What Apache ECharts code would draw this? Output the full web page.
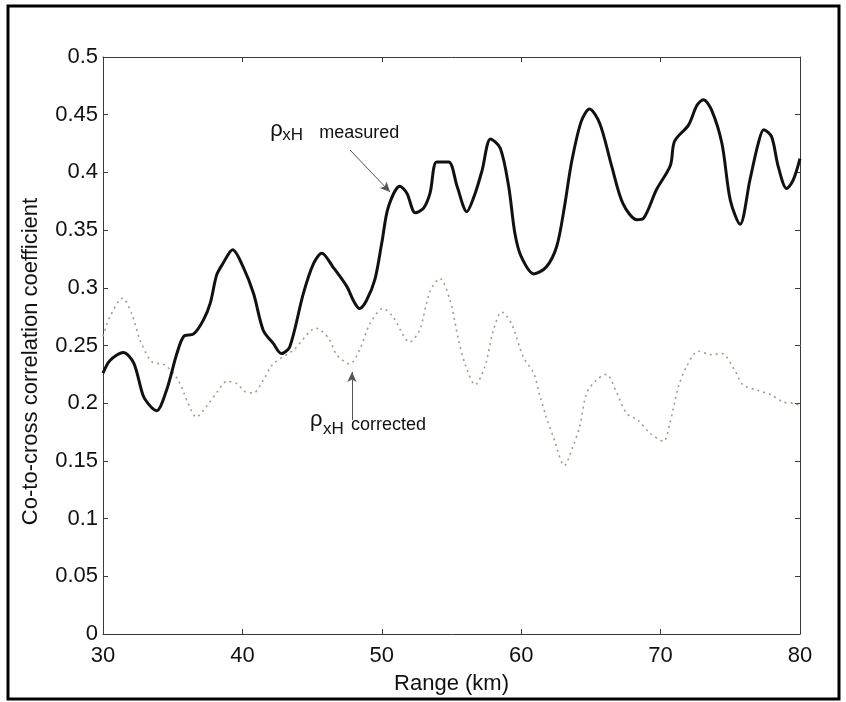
<!DOCTYPE html>
<html>
<head>
<meta charset="utf-8">
<script src="https://cdn.jsdelivr.net/npm/echarts@6/dist/echarts.min.js"></script>
<style>
html,body{margin:0;padding:0;background:#fff;}
#chart{width:846px;height:702px;}
</style>
</head>
<body>
<div id="chart"></div>
<script>
// range (km) and coefficient
var measuredKm = [30, 30.5, 31.45, 32.2, 32.9, 33.5, 33.85, 34.55, 35.3, 35.8, 36.5, 37.2, 37.7, 38.15, 38.6, 39.3,
    40.06, 40.8, 41.5, 42.2, 42.8, 43.4, 44.37, 45.1, 45.7, 46.5, 47.5, 47.96, 48.4, 48.9, 49.5, 50.0, 50.47,
    51.3, 51.8, 52.4, 53.0, 53.46, 53.94, 54.8, 55.4, 56.1, 56.7, 57.2, 57.8, 58.5, 59.1, 59.55, 60.0, 60.9,
    61.8, 62.55, 63.1, 63.6, 64.3, 64.9, 65.65, 66.5, 67.3, 68.3, 68.76, 69.7, 70.7, 71.0, 72.0, 72.6, 73.07,
    73.66, 74.4, 75.0, 75.7, 76.4, 77.0, 77.4, 77.96, 78.44, 79.04, 79.5, 80.0];
var measuredVal = [0.226, 0.237, 0.244, 0.235, 0.206, 0.196, 0.1935, 0.211, 0.243, 0.258, 0.260, 0.272, 0.287, 0.311, 0.321, 0.333,
    0.318, 0.295, 0.263, 0.252, 0.243, 0.249, 0.295, 0.321, 0.330, 0.318, 0.301, 0.289, 0.282, 0.289, 0.307, 0.339, 0.370,
    0.388, 0.382, 0.365, 0.369, 0.382, 0.409, 0.409, 0.388, 0.366, 0.382, 0.402, 0.429, 0.421, 0.388, 0.347, 0.327, 0.312,
    0.318, 0.336, 0.370, 0.408, 0.444, 0.455, 0.442, 0.405, 0.373, 0.359, 0.360, 0.385, 0.406, 0.427, 0.441, 0.458, 0.463,
    0.454, 0.425, 0.376, 0.355, 0.393, 0.425, 0.437, 0.431, 0.405, 0.386, 0.393, 0.412];

var correctedKm = [30, 30.5, 31.4, 32.05, 32.65, 33.5, 34.45, 35.4, 36.1, 36.7, 37.4, 38.15, 38.9, 39.6, 40.2, 40.8,
    41.5, 42.2, 43.66, 45.3, 46.2, 46.76, 47.7, 48.4, 49.15, 50.1, 50.8, 52.0, 52.7, 53.46, 54.17, 54.9, 55.5,
    55.97, 56.7, 57.4, 58.0, 58.6, 59.3, 60.15, 60.9, 61.35, 61.8, 62.3, 63.1, 63.7, 64.2, 64.7, 65.4, 66.1,
    66.85, 67.57, 68.4, 69.24, 70.2, 70.67, 71.27, 71.87, 72.7, 73.66, 74.4, 75.3, 75.9, 77.0, 77.96, 78.8, 79.5, 80.0];
var correctedVal = [0.258, 0.275, 0.291, 0.278, 0.255, 0.236, 0.233, 0.220, 0.200, 0.188, 0.197, 0.209, 0.219, 0.217, 0.210, 0.209,
    0.220, 0.234, 0.246, 0.265, 0.256, 0.242, 0.234, 0.246, 0.269, 0.282, 0.275, 0.253, 0.263, 0.297, 0.308, 0.289, 0.255,
    0.234, 0.216, 0.232, 0.263, 0.279, 0.269, 0.240, 0.226, 0.206, 0.188, 0.171, 0.146, 0.162, 0.180, 0.209, 0.220, 0.225,
    0.209, 0.191, 0.185, 0.174, 0.167, 0.183, 0.214, 0.232, 0.245, 0.242, 0.243, 0.229, 0.216, 0.211, 0.207, 0.201, 0.200, 0.198];

// axis ticks
var xMin = 30, xMax = 80, xStep = 10;
var yMin = 0, yMax = 0.5, yStep = 0.05;

// annotation anchors, in data units
var measuredTag = [42.0, 0.437];
var correctedTag = [44.85, 0.1854];
var measuredArrow = [[47.72, 0.4194], [50.59, 0.383]];
var correctedArrow = [[47.86, 0.1854], [47.86, 0.227]];

function zip(xs, ys) {
    var out = [];
    for (var i = 0; i < xs.length; i++) {
        out.push([xs[i], ys[i]]);
    }
    return out;
}

var font = 'Liberation Sans, Arial, sans-serif';
var axisColor = '#3a3a3a';

var myChart = echarts.init(document.getElementById('chart'));

function boxAxis(pos, isX, showLabel) {
    var ax = {
        type: 'value',
        position: pos,
        min: isX ? xMin : yMin,
        max: isX ? xMax : yMax,
        interval: isX ? xStep : yStep,
        axisLine: { show: true, onZero: false, lineStyle: { color: axisColor, width: 1 } },
        axisTick: { show: true, inside: true, length: 5, lineStyle: { color: axisColor, width: 1 } },
        splitLine: { show: false },
        axisLabel: {
            show: showLabel,
            fontFamily: font,
            fontSize: 22,
            color: '#111',
            margin: isX ? 11 : 5
        }
    };
    return ax;
}

var xBottom = boxAxis('bottom', true, true);
xBottom.name = 'Range (km)';
xBottom.nameLocation = 'middle';
xBottom.nameGap = 39;
xBottom.nameTextStyle = { fontFamily: font, fontSize: 22, color: '#111' };

var yLeft = boxAxis('left', false, true);
yLeft.name = 'Co-to-cross correlation coefficient';
yLeft.nameLocation = 'middle';
yLeft.nameGap = 61;
yLeft.nameTextStyle = { fontFamily: font, fontSize: 22, color: '#111', padding: [0, 32, 0, 0] };

var option = {
    animation: false,
    backgroundColor: '#fff',
    grid: { left: 103, right: 46, top: 57, bottom: 68 },
    xAxis: [xBottom, boxAxis('top', true, false)],
    yAxis: [yLeft, boxAxis('right', false, false)],
    series: [
        {
            name: 'corrected',
            type: 'line',
            data: zip(correctedKm, correctedVal),
            showSymbol: false,
            smooth: 0.3,
            lineStyle: { color: '#8fa886', width: 1.6, type: [2, 4] },
            z: 2
        },
        {
            name: 'measured',
            type: 'line',
            data: zip(measuredKm, measuredVal),
            showSymbol: false,
            smooth: 0.3,
            lineStyle: { color: '#111', width: 3 },
            z: 3,
            markLine: {
                silent: true,
                symbol: ['none', 'arrow'],
                symbolSize: [7, 10],
                label: { show: false },
                lineStyle: { color: '#555', width: 1, type: 'solid' },
                data: [
                    [{ coord: measuredArrow[0] }, { coord: measuredArrow[1] }],
                    [{ coord: correctedArrow[0] }, { coord: correctedArrow[1] }]
                ]
            }
        }
    ]
};
myChart.setOption(option);

function tagTexts(at, word, subDx, subDy, wordDx, wordDy) {
    var p = myChart.convertToPixel({ gridIndex: 0 }, at);
    var base = { fontFamily: font, fill: '#111', verticalAlign: 'middle', align: 'left' };
    return [
        { type: 'text', x: p[0], y: p[1], style: Object.assign({ text: 'ρ', fontSize: 22 }, base) },
        { type: 'text', x: p[0] + subDx, y: p[1] + subDy, style: Object.assign({ text: 'xH', fontSize: 17 }, base) },
        { type: 'text', x: p[0] + wordDx, y: p[1] + wordDy, style: Object.assign({ text: word, fontSize: 18 }, base) }
    ];
}

var graphics = [
    {
        type: 'rect',
        shape: { x: 8, y: 6, width: 831, height: 693 },
        style: { fill: 'none', stroke: '#000', lineWidth: 3 },
        silent: true
    }
];
graphics = graphics.concat(tagTexts(measuredTag, 'measured', 12, 6, 49, 3));
graphics = graphics.concat(tagTexts(correctedTag, 'corrected', 13, 9, 41, 5));

myChart.setOption({ graphic: graphics });
</script>
</body>
</html>
